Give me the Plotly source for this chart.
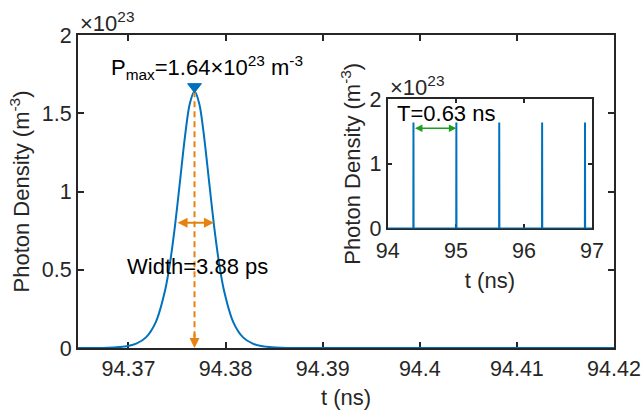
import plotly.graph_objects as go

# ---- data (photon density in units of 1e23 m^-3, time in ns) ----
pulse_t = [94.3648, 94.3668, 94.3678, 94.3688, 94.3698, 94.3708, 94.3718, 94.3728,
           94.3738, 94.3743, 94.3748, 94.3753, 94.3758, 94.3763, 94.3768, 94.3773,
           94.3778, 94.3783, 94.3788, 94.3793, 94.3798, 94.3808, 94.3818, 94.3828,
           94.3838, 94.3848, 94.3858, 94.3868, 94.3898, 94.4200]
pulse_p = [0.0, 0.0004, 0.0018, 0.0045, 0.011, 0.028, 0.068, 0.164,
           0.377, 0.554, 0.787, 1.063, 1.343, 1.558, 1.64, 1.558,
           1.343, 1.063, 0.787, 0.554, 0.377, 0.164, 0.068, 0.028,
           0.011, 0.0045, 0.0018, 0.0004, 0.0, 0.0]

peak_t = 94.3768
peak_p = 1.64
marker_p = 1.67
half_left = 94.3749
half_right = 94.3788
half_level = 0.80

train_t = [94.377, 95.007, 95.637, 96.267, 96.897]
train_peak = 1.64
train_start, train_end = 94.0, 97.0
period_level = 1.55

x_ticks = [94.37, 94.38, 94.39, 94.40, 94.41, 94.42]
x_ticktext = ["94.37", "94.38", "94.39", "94.4", "94.41", "94.42"]
y_ticks = [0, 0.5, 1, 1.5, 2]
y_ticktext = ["0", "0.5", "1", "1.5", "2"]
x2_ticks = [94, 95, 96, 97]
y2_ticks = [0, 1, 2]

BLUE = "#0072BD"
ORANGE = "#E8820E"
GREEN = "#1E9E1E"
INK = "#262626"
FONT = "Liberation Sans, Arial, Helvetica, sans-serif"
TICK_SIZE = 21.5
TEXT_SIZE = 22

# build inset pulse train from the pulse times
ix, iy = [train_start], [0.0]
for t in train_t:
    ix += [t - 0.002, t, t + 0.002]
    iy += [0.0, train_peak, 0.0]
ix.append(train_end)
iy.append(0.0)

fig = go.Figure()
fig.add_trace(go.Scatter(x=pulse_t, y=pulse_p, mode="lines",
                         line=dict(color=BLUE, width=2, shape="spline", smoothing=0.8),
                         xaxis="x", yaxis="y", showlegend=False))
fig.add_trace(go.Scatter(x=[peak_t, peak_t], y=[peak_p, 0.02], mode="lines",
                         line=dict(color=ORANGE, width=2, dash="6px,4px"),
                         xaxis="x", yaxis="y", showlegend=False))
fig.add_trace(go.Scatter(x=[peak_t], y=[marker_p], mode="markers",
                         marker=dict(symbol="triangle-down", size=12, color=BLUE,
                                     line=dict(color=BLUE, width=1)),
                         xaxis="x", yaxis="y", showlegend=False))
fig.add_trace(go.Scatter(x=ix, y=iy, mode="lines",
                         line=dict(color=BLUE, width=2),
                         xaxis="x2", yaxis="y2", showlegend=False))

ann = []
ann.append(dict(x=peak_t, y=0, ax=peak_t, ay=0.1, xref="x", yref="y", axref="x", ayref="y",
                showarrow=True, arrowhead=2, arrowsize=1, arrowwidth=2, arrowcolor=ORANGE, text=""))
ann.append(dict(x=half_right, y=half_level, ax=half_left, ay=half_level,
                xref="x", yref="y", axref="x", ayref="y", showarrow=True,
                arrowhead=2, startarrowhead=2, arrowside="end+start", arrowsize=1,
                startarrowsize=1, arrowwidth=2, arrowcolor=ORANGE, text=""))
ann.append(dict(x=train_t[1], y=period_level, ax=train_t[0], ay=period_level,
                xref="x2", yref="y2", axref="x2", ayref="y2", showarrow=True,
                arrowhead=2, startarrowhead=2, arrowside="end+start", arrowsize=1,
                startarrowsize=1, arrowwidth=1.5, arrowcolor=GREEN, text=""))
tf = dict(family=FONT, size=TEXT_SIZE, color="#000000")
ann.append(dict(x=94.3680, y=1.79, xref="x", yref="y", xanchor="left", yanchor="middle",
                showarrow=False, font=tf,
                text="P<sub>max</sub>=1.64×10<sup>23</sup> m<sup>-3</sup>"))
ann.append(dict(x=94.3696, y=0.523, xref="x", yref="y", xanchor="left", yanchor="middle",
                showarrow=False, font=tf, text="Width=3.88 ps"))
ann.append(dict(x=94.10, y=1.78, xref="x2", yref="y2", xanchor="left", yanchor="middle",
                showarrow=False, font=tf, text="T=0.63 ns"))
ef = dict(family=FONT, size=TEXT_SIZE, color=INK)
ann.append(dict(x=0, y=1, xref="x domain", yref="y domain", xanchor="left", yanchor="bottom",
                showarrow=False, font=ef, text="×10<sup>23</sup>", yshift=-3))
ann.append(dict(x=0, y=1, xref="x2 domain", yref="y2 domain", xanchor="left", yanchor="bottom",
                showarrow=False, font=ef, text="×10<sup>23</sup>", yshift=-3))

axis_common = dict(showline=True, linecolor=INK, linewidth=2, mirror="ticks",
                   ticks="inside", tickcolor=INK, tickwidth=1.5, showgrid=False,
                   zeroline=False, layer="below traces", automargin=False,
                   tickfont=dict(family=FONT, size=TICK_SIZE, color=INK),
                   title_font=dict(family=FONT, size=TEXT_SIZE, color=INK))

fig.update_layout(
    width=642, height=414,
    margin=dict(l=78, r=28, t=35, b=66, autoexpand=False),
    paper_bgcolor="white", plot_bgcolor="white",
    font=dict(family=FONT, size=TEXT_SIZE, color=INK),
    annotations=ann,
    xaxis=dict(axis_common, domain=[0, 1], range=[94.3648, 94.42], tickvals=x_ticks,
               ticktext=x_ticktext, ticklen=6, title=dict(text="t (ns)", standoff=10)),
    yaxis=dict(axis_common, domain=[0, 1], range=[0, 2], tickvals=y_ticks,
               ticktext=y_ticktext, ticklen=6,
               title=dict(text="Photon Density (m<sup>-3</sup>)", standoff=6)),
    xaxis2=dict(axis_common, domain=[0.578, 0.959], anchor="y2", range=[94, 97],
                tickvals=x2_ticks, ticklen=4, ticklabelstandoff=2,
                title=dict(text="t (ns)", standoff=10)),
    yaxis2=dict(axis_common, domain=[0.382, 0.795], anchor="x2", range=[0, 2],
                tickvals=y2_ticks, ticklen=4,
                title=dict(text="Photon Density (m<sup>-3</sup>)", standoff=3)),
)

fig.write_html("out.html", config={"displayModeBar": False},
               post_script="document.body.style.margin='0';")
